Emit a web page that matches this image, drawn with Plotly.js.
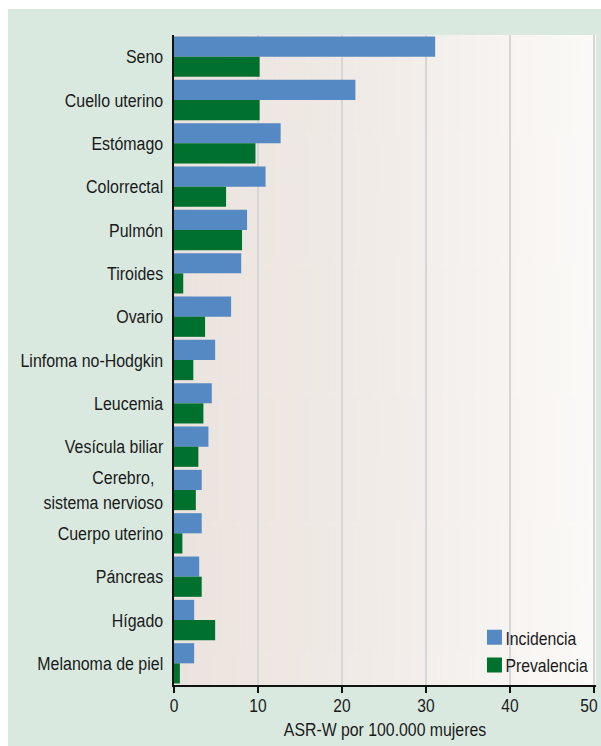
<!DOCTYPE html>
<html>
<head>
<meta charset="utf-8">
<script src="https://cdn.plot.ly/plotly-3.0.1.min.js"></script>
<style>
  html, body { margin: 0; padding: 0; background: #ffffff; width: 601px; height: 746px; overflow: hidden; }
  #chart { position: absolute; left: 8px; top: 9px; width: 593px; height: 737px; }
</style>
</head>
<body>
<div id="chart"></div>
<script>
// ---- data ----
const categories = [
  "Seno", "Cuello uterino", "Estómago", "Colorrectal", "Pulmón", "Tiroides",
  "Ovario", "Linfoma no-Hodgkin", "Leucemia", "Vesícula biliar",
  "Cerebro,&nbsp;&nbsp;<br>sistema nervioso", "Cuerpo uterino", "Páncreas",
  "Hígado", "Melanoma de piel"
];
const incidencia = [31.1, 21.6, 12.7, 10.9, 8.7, 8.0, 6.8, 4.9, 4.5, 4.1, 3.3, 3.3, 3.0, 2.4, 2.4];
const prevalencia = [10.2, 10.2, 9.7, 6.2, 8.1, 1.1, 3.7, 2.3, 3.5, 2.9, 2.6, 1.0, 3.3, 4.9, 0.7];
const seriesNames = ["Incidencia", "Prevalencia"];
const xTicks = [0, 10, 20, 30, 40, 50];
const xTitle = "ASR-W por 100.000 mujeres";

const colorInc = "#5589C3";
const colorPrev = "#00702F";
const FONT = "'Liberation Sans', Arial, sans-serif";

// gradient background image for the plot area
const cv = document.createElement("canvas");
cv.width = 420; cv.height = 10;
const ctx = cv.getContext("2d");
const g = ctx.createLinearGradient(0, 0, 420, 0);
g.addColorStop(0, "#ebe3de");
g.addColorStop(0.5, "#f1ece8");
g.addColorStop(1, "#fcfaf8");
ctx.fillStyle = g; ctx.fillRect(0, 0, 420, 10);
const bgURL = cv.toDataURL();

const traces = [
  { type: "bar", orientation: "h", y: categories, x: incidencia, name: seriesNames[0],
    marker: { color: colorInc }, showlegend: false, hoverinfo: "x+y" },
  { type: "bar", orientation: "h", y: categories, x: prevalencia, name: seriesNames[1],
    marker: { color: colorPrev }, showlegend: false, hoverinfo: "x+y" },
  { type: "scatter", mode: "markers", x: [null], y: [null], name: seriesNames[0],
    marker: { symbol: "square", size: 15, color: colorInc } },
  { type: "scatter", mode: "markers", x: [null], y: [null], name: seriesNames[1],
    marker: { symbol: "square", size: 15, color: colorPrev } }
];

const layout = {
  width: 593, height: 737,
  margin: { l: 166, r: 5, t: 26, b: 61, autoexpand: false },
  paper_bgcolor: "#d9e9df",
  plot_bgcolor: "rgba(0,0,0,0)",
  font: { family: FONT, color: "#1a1a1a", size: 19 },
  barmode: "group",
  bargap: 0.07,
  bargroupgap: 0,
  showlegend: true,
  legend: {
    x: 0.712, y: 0.001, xanchor: "left", yanchor: "bottom",
    bgcolor: "rgba(0,0,0,0)", font: { family: FONT, size: 19, color: "#1a1a1a" },
    tracegroupgap: 0, itemwidth: 30
  },
  xaxis: {
    range: [0, 50.25], tickvals: xTicks, ticktext: xTicks.map(String),
    showgrid: true, gridcolor: "#d6d6d6", gridwidth: 1.5,
    zeroline: false, showline: true, linecolor: "#111", linewidth: 1.5,
    ticks: "outside", ticklen: 6, tickwidth: 1.5, tickcolor: "#111",
    ticklabelstandoff: -3, ticklabeloverflow: "allow",
    tickfont: { family: FONT, size: 19, color: "#1a1a1a" },
    title: { text: xTitle, font: { family: FONT, size: 18, color: "#1a1a1a" }, standoff: 8 },
    fixedrange: true
  },
  yaxis: {
    type: "category", autorange: "reversed",
    showgrid: false, zeroline: false, showline: true, linecolor: "#111", linewidth: 2,
    ticks: "", ticklabelstandoff: 5,
    tickfont: { family: FONT, size: 19, color: "#1a1a1a" },
    fixedrange: true
  },
  images: [{
    source: bgURL, xref: "paper", yref: "paper", x: 0, y: 1, sizex: 1, sizey: 1,
    sizing: "stretch", layer: "below", xanchor: "left", yanchor: "top"
  }]
};

// condense text horizontally (reference uses a condensed sans face)
function condense(query, s, dx) {
  document.querySelectorAll(query).forEach(t => {
    const x = parseFloat(t.getAttribute("x")) || 0;
    const prev = t.getAttribute("transform") || "";
    t.setAttribute("transform",
      prev + " translate(" + ((dx || 0) + x) + ",0) scale(" + s + ",1) translate(" + (-x) + ",0)");
  });
}

Plotly.newPlot("chart", traces, layout, { displayModeBar: false, staticPlot: true }).then(() => {
  condense(".ytick text", 0.84);
  const xt = document.querySelectorAll(".xtick text");
  xt.forEach((t, i) => {
    const x = parseFloat(t.getAttribute("x")) || 0;
    const dx = (i === xt.length - 1) ? -5 : 0;
    const prev = t.getAttribute("transform") || "";
    t.setAttribute("transform",
      prev + " translate(" + (dx + x) + ",0) scale(0.82,1) translate(" + (-x) + ",0)");
  });
  condense(".xtitle", 0.88);
  condense(".legendtext", 0.83, -9);
});
</script>
</body>
</html>
